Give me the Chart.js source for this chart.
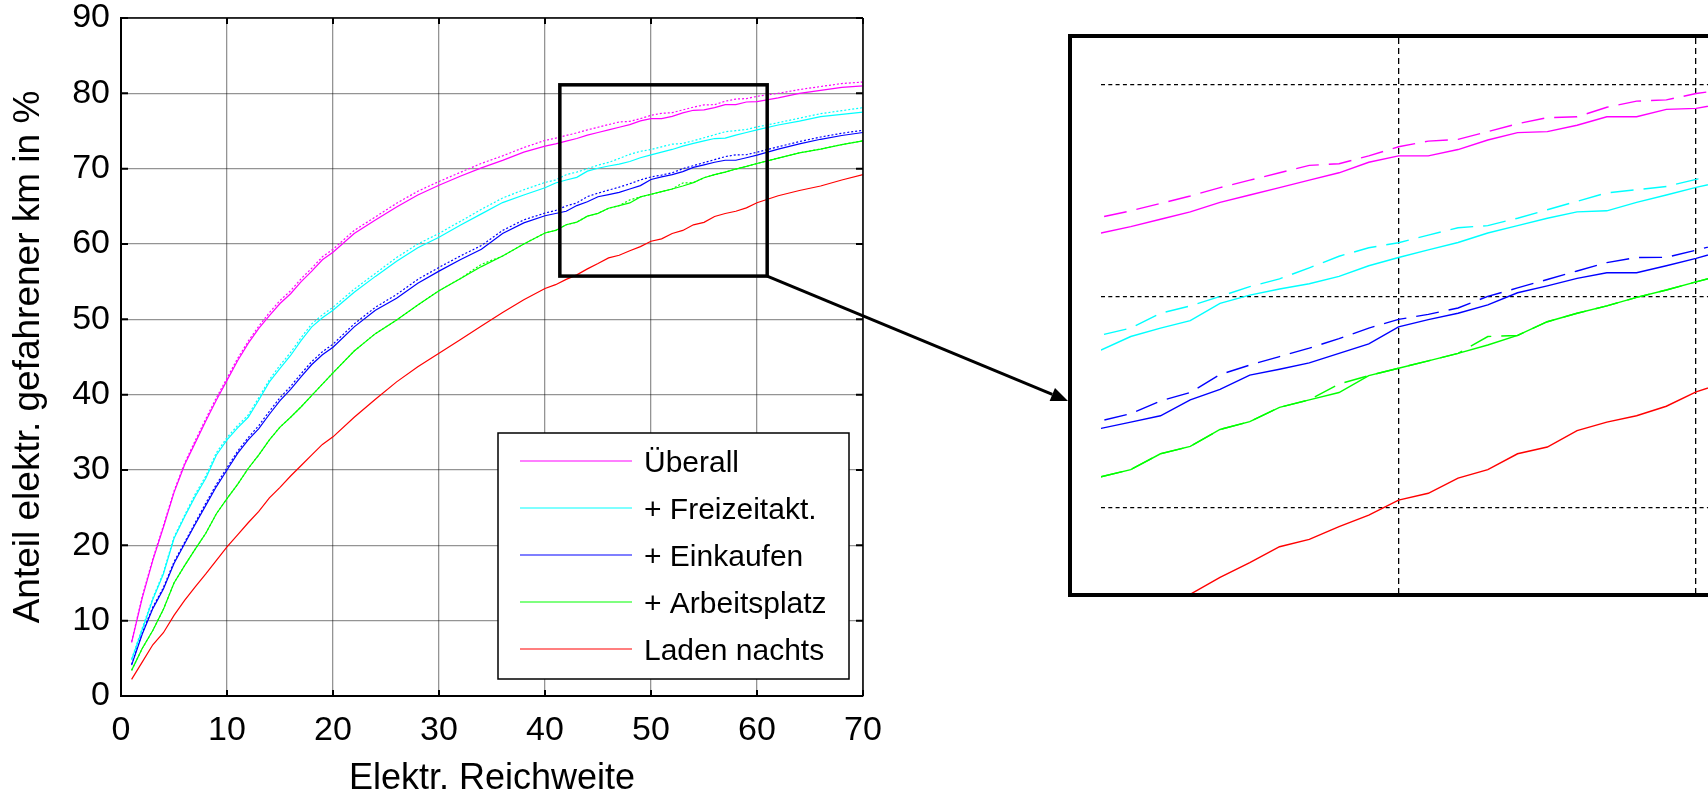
<!DOCTYPE html>
<html>
<head>
<meta charset="utf-8">
<script src="https://cdn.jsdelivr.net/npm/chart.js@4.4.1/dist/chart.umd.min.js"></script>
<style>
  html, body { margin: 0; padding: 0; background: #fff; overflow: hidden; }
  body { width: 1708px; height: 792px; position: relative; }
  #main { position: absolute; left: 0; top: 0; }
  #zoomBox { position: absolute; left: 1068px; top: 34px; width: 700px; height: 555px;
             border: 4px solid #000; background: #fff; }
  #inset { position: absolute; left: 29px; top: 0; }
</style>
</head>
<body>
<canvas id="main" width="1708" height="792"></canvas>
<div id="zoomBox"><canvas id="inset" width="607" height="555"></canvas></div>
<script>
// Reichweite (x) und Anteile in %
var reichweite = [1,2,3,4,5,6,7,8,9,10,11,12,13,14,15,16,17,18,19,20,
  22,24,26,28,30,32,34,36,38,40,
  41,42,43,44,45,46,47,48,49,50,51,52,53,54,55,56,57,58,59,60,
  62,64,66,68,70];

var ueberall = [7.1,13.0,18.0,22.4,27.0,30.7,33.6,36.5,39.3,41.9,44.5,46.8,48.8,50.5,52.1,53.4,55.0,56.4,57.9,58.9,
  61.4,63.2,64.9,66.5,67.8,69.0,70.1,71.1,72.2,73.0,
  73.3,73.65,74.0,74.45,74.8,75.15,75.5,75.85,76.35,76.65,76.65,76.95,77.4,77.75,77.8,78.1,78.5,78.5,78.85,78.9,
  79.4,80.0,80.4,80.8,81.0];
var ueberallB = [7.2,13.2,18.2,22.6,27.2,30.9,33.9,36.8,39.6,42.2,44.8,47.1,49.1,50.9,52.5,53.8,55.4,56.8,58.3,59.3,
  61.8,63.6,65.4,67.0,68.3,69.5,70.7,71.7,72.8,73.75,
  74.05,74.4,74.75,75.15,75.5,75.85,76.2,76.28,76.65,77.08,77.35,77.43,77.8,78.17,78.46,78.5,78.95,79.24,79.3,79.6,
  80.0,80.5,80.9,81.3,81.5];

var freizeit = [4.8,8.8,12.8,16.2,20.9,23.8,26.5,28.9,32.0,34.0,35.6,37.0,39.3,41.7,43.5,45.2,47.2,49.0,50.2,51.2,
  53.6,55.7,57.7,59.5,60.9,62.5,64.0,65.5,66.5,67.46,
  68.1,68.5,68.85,69.67,70.06,70.35,70.6,70.95,71.45,71.84,72.2,72.55,73.0,73.35,73.7,74.0,74.05,74.45,74.8,75.16,
  75.8,76.3,76.9,77.2,77.5];
var freizeitB = [4.9,9.0,13.0,16.4,21.1,24.0,26.8,29.2,32.3,34.3,35.9,37.3,39.6,42.0,43.9,45.6,47.6,49.4,50.6,51.6,
  54.0,56.1,58.2,60.0,61.4,63.0,64.6,66.1,67.2,68.17,
  68.5,69.2,69.55,70.0,70.46,70.83,71.35,71.9,72.3,72.54,72.9,73.25,73.35,73.7,74.1,74.5,74.9,75.05,75.2,75.54,
  76.1,76.7,77.3,77.7,78.1];

var einkaufen = [4.1,8.2,11.6,14.2,17.6,20.2,22.8,25.3,27.8,30.0,32.2,34.0,35.5,37.4,39.2,40.7,42.4,44.0,45.3,46.3,
  49.0,51.2,52.8,54.8,56.4,57.9,59.3,61.4,62.8,63.75,
  64.05,64.35,65.1,65.6,66.27,66.55,66.85,67.3,67.75,68.56,68.9,69.2,69.6,70.17,70.5,70.85,71.12,71.12,71.45,71.8,
  72.6,73.3,73.9,74.4,74.8];
var einkaufenB = [4.2,8.4,11.8,14.4,17.8,20.4,23.0,25.6,28.1,30.3,32.5,34.3,35.9,37.8,39.6,41.1,42.8,44.4,45.7,46.7,
  49.4,51.6,53.3,55.3,56.9,58.4,59.8,61.8,63.2,64.11,
  64.45,65.05,65.45,66.3,66.75,67.15,67.55,68.0,68.5,68.91,69.15,69.45,70.0,70.4,70.8,71.2,71.6,71.84,71.85,72.19,
  72.9,73.6,74.2,74.7,75.1];

var arbeit = [3.4,6.3,8.7,11.5,15.0,17.3,19.5,21.6,24.2,26.2,28.1,30.2,32.0,34.0,35.7,37.0,38.4,39.9,41.4,42.9,
  45.8,48.1,49.9,51.9,53.8,55.4,57.0,58.4,60.0,61.46,
  61.8,62.55,62.9,63.7,64.07,64.75,65.1,65.45,66.25,66.6,66.95,67.3,67.7,68.15,68.8,69.2,69.55,69.95,70.3,70.69,
  71.4,72.1,72.6,73.2,73.7];
var arbeitB = [3.4,6.3,8.7,11.5,15.0,17.3,19.5,21.6,24.2,26.2,28.1,30.2,32.0,34.0,35.7,37.0,38.4,39.9,41.4,42.9,
  45.8,48.1,49.9,51.9,53.8,55.4,57.3,58.4,60.0,61.46,
  61.8,62.55,62.9,63.7,64.07,64.75,65.1,65.85,66.25,66.6,66.95,67.3,68.1,68.15,68.8,69.2,69.55,69.95,70.3,70.69,
  71.4,72.1,72.6,73.2,73.7];

var laden = [2.2,4.5,6.8,8.4,10.7,12.7,14.5,16.2,18.0,19.8,21.4,23.0,24.5,26.3,27.7,29.2,30.6,32.0,33.4,34.4,
  37.0,39.4,41.7,43.7,45.5,47.3,49.1,50.9,52.6,54.1,
  54.6,55.3,55.9,56.7,57.4,58.15,58.5,59.1,59.65,60.36,60.68,61.4,61.8,62.55,62.87,63.65,64.05,64.35,64.8,65.48,
  66.4,67.1,67.7,68.5,69.2];

var xTicks = [0,10,20,30,40,50,60,70];
var yTicks = [0,10,20,30,40,50,60,70,80,90];

// Ausschnitt (Lupe) und Gitter im vergroesserten Bild
var lupeX = [41.4, 60.96];
var lupeY = [55.74, 81.13];
var insetXTicks = [50, 60];
var insetYTicks = [60, 70, 80];

var FONT = '"Liberation Sans", Arial, sans-serif';

function pts(ys) {
  return reichweite.map(function (x, i) { return { x: x, y: ys[i] }; });
}

function makeDatasets(dash, width) {
  var list = [
    { label: '\u00dcberall', color: '#ff00ff', a: ueberall, b: ueberallB },
    { label: '+ Freizeitakt.', color: '#00ffff', a: freizeit, b: freizeitB },
    { label: '+ Einkaufen', color: '#0000ff', a: einkaufen, b: einkaufenB },
    { label: '+ Arbeitsplatz', color: '#00ff00', a: arbeit, b: arbeitB },
    { label: 'Laden nachts', color: '#ff0000', a: laden, b: null }
  ];
  var sets = [];
  list.forEach(function (s) {
    sets.push({ label: s.label, inLegend: true, data: pts(s.a), borderColor: s.color,
      borderWidth: width, pointRadius: 0, fill: false });
    if (s.b) {
      sets.push({ label: s.label + ' (2)', inLegend: false, data: pts(s.b), borderColor: s.color,
        borderWidth: width, borderDash: dash, pointRadius: 0, fill: false });
    }
  });
  return sets;
}

// MATLAB-artiger Rahmen, Ticks, Legende, Lupe und Pfeil
var matlabBox = {
  id: 'matlabBox',
  afterDraw: function (chart) {
    var ctx = chart.ctx;
    var a = chart.chartArea;
    var sx = chart.scales.x, sy = chart.scales.y;
    ctx.save();
    ctx.strokeStyle = '#000';
    ctx.lineWidth = 1.5;
    ctx.beginPath();
    ctx.moveTo(a.left, a.top); ctx.lineTo(a.right, a.top);
    ctx.moveTo(a.right, a.top); ctx.lineTo(a.right, a.bottom);
    ctx.stroke();

    ctx.lineWidth = 2;
    ctx.beginPath();
    xTicks.forEach(function (v) {
      var px = sx.getPixelForValue(v);
      ctx.moveTo(px, a.bottom); ctx.lineTo(px, a.bottom - 6);
      ctx.moveTo(px, a.top); ctx.lineTo(px, a.top + 6);
    });
    yTicks.forEach(function (v) {
      var py = sy.getPixelForValue(v);
      ctx.moveTo(a.left, py); ctx.lineTo(a.left + 7, py);
      ctx.moveTo(a.right, py); ctx.lineTo(a.right - 7, py);
    });
    ctx.stroke();

    // Legende
    var lw = 351, lh = 246;
    var lx = a.right - 14 - lw, ly = a.bottom - 17 - lh;
    ctx.fillStyle = '#fff';
    ctx.fillRect(lx, ly, lw, lh);
    ctx.lineWidth = 1.5;
    ctx.strokeStyle = '#000';
    ctx.strokeRect(lx, ly, lw, lh);
    ctx.font = '30px ' + FONT;
    ctx.textBaseline = 'middle';
    ctx.textAlign = 'left';
    var row = 0;
    chart.data.datasets.forEach(function (ds) {
      if (!ds.inLegend) return;
      var y = ly + 28 + row * 47;
      ctx.strokeStyle = ds.borderColor;
      ctx.lineWidth = 1.2;
      ctx.beginPath();
      ctx.moveTo(lx + 22, y); ctx.lineTo(lx + 134, y);
      ctx.stroke();
      ctx.fillStyle = '#000';
      ctx.fillText(ds.label, lx + 146, y + 3);
      row++;
    });

    // Lupe
    var x1 = sx.getPixelForValue(lupeX[0]), x2 = sx.getPixelForValue(lupeX[1]);
    var y1 = sy.getPixelForValue(lupeY[1]), y2 = sy.getPixelForValue(lupeY[0]);
    ctx.strokeStyle = '#000';
    ctx.lineWidth = 3.5;
    ctx.strokeRect(x1, y1, x2 - x1, y2 - y1);

    // Pfeil zum vergroesserten Bild
    var box = document.getElementById('zoomBox');
    var tx = box.offsetLeft, ty = 401;
    var ang = Math.atan2(ty - y2, tx - x2);
    var hl = 17, hw = 7;
    var bx = tx - hl * Math.cos(ang), by = ty - hl * Math.sin(ang);
    ctx.lineWidth = 3;
    ctx.beginPath();
    ctx.moveTo(x2, y2); ctx.lineTo(bx, by);
    ctx.stroke();
    ctx.fillStyle = '#000';
    ctx.beginPath();
    ctx.moveTo(tx, ty);
    ctx.lineTo(bx + hw * Math.sin(ang), by - hw * Math.cos(ang));
    ctx.lineTo(bx - hw * Math.sin(ang), by + hw * Math.cos(ang));
    ctx.closePath();
    ctx.fill();
    ctx.restore();
  }
};

new Chart(document.getElementById('main').getContext('2d'), {
  type: 'line',
  data: { datasets: makeDatasets([2, 2], 1.2) },
  options: {
    responsive: false,
    animation: false,
    devicePixelRatio: 1,
    layout: { padding: { left: 0, right: 845, top: 18, bottom: 0 } },
    plugins: { legend: { display: false }, tooltip: { enabled: false } },
    elements: { line: { tension: 0 } },
    scales: {
      x: {
        type: 'linear', min: 0, max: 70,
        ticks: { stepSize: 10, padding: 14, color: '#000', maxRotation: 0, font: { family: FONT, size: 34 } },
        grid: { color: 'rgba(0,0,0,0.42)', lineWidth: 1.3, drawTicks: false },
        border: { display: true, color: '#000', width: 2 },
        title: { display: true, text: 'Elektr. Reichweite', color: '#000',
                 font: { family: FONT, size: 36, lineHeight: 0.72 }, padding: { top: 0, bottom: 0 } },
        afterFit: function (s) { s.height = 96; s.paddingLeft = 0; s.paddingRight = 0; }
      },
      y: {
        min: 0, max: 90,
        ticks: { stepSize: 10, padding: 11, color: '#000', font: { family: FONT, size: 34 } },
        grid: { color: 'rgba(0,0,0,0.42)', lineWidth: 1.3, drawTicks: false },
        border: { display: true, color: '#000', width: 2 },
        title: { display: true, text: 'Anteil elektr. gefahrener km in %', color: '#000',
                 font: { family: FONT, size: 37, lineHeight: 1 }, padding: { top: 10.5, bottom: 0 } },
        afterFit: function (s) { s.width = 121; s.paddingTop = 0; s.paddingBottom = 0; }
      }
    }
  },
  plugins: [matlabBox]
});

new Chart(document.getElementById('inset').getContext('2d'), {
  type: 'line',
  data: { datasets: makeDatasets([23, 10], 1.4) },
  options: {
    responsive: false,
    animation: false,
    devicePixelRatio: 1,
    layout: { padding: 0 },
    plugins: { legend: { display: false }, tooltip: { enabled: false } },
    elements: { line: { tension: 0 } },
    scales: {
      x: {
        type: 'linear', min: 40, max: 60.4,
        ticks: { display: false },
        grid: { color: '#000', lineWidth: 1.3, drawTicks: false },
        border: { display: false, dash: [6, 4] },
        afterBuildTicks: function (s) { s.ticks = insetXTicks.map(function (v) { return { value: v }; }); },
        afterFit: function (s) { s.height = 0; s.paddingLeft = 0; s.paddingRight = 0; }
      },
      y: {
        min: 55.96, max: 82.23,
        ticks: { display: false },
        grid: { color: '#000', lineWidth: 1.3, drawTicks: false },
        border: { display: false, dash: [4, 3.3] },
        afterBuildTicks: function (s) { s.ticks = insetYTicks.map(function (v) { return { value: v }; }); },
        afterFit: function (s) { s.width = 0; s.paddingTop = 0; s.paddingBottom = 0; }
      }
    }
  }
});
</script>
</body>
</html>
